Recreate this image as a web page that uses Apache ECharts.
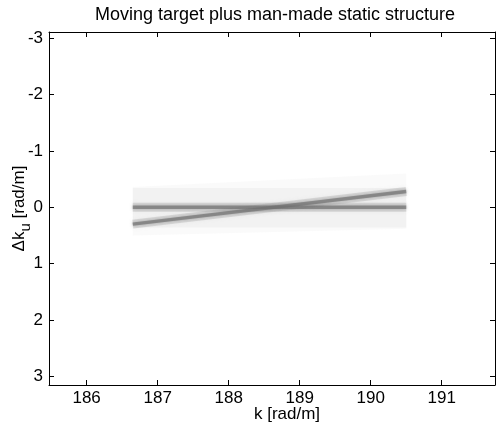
<!DOCTYPE html>
<html>
<head>
<meta charset="utf-8">
<script src="https://cdn.jsdelivr.net/npm/echarts@6/dist/echarts.min.js"></script>
<style>
  html, body { margin: 0; padding: 0; background: #fff; }
  #chart { width: 496px; height: 433px; }
</style>
</head>
<body>
<div id="chart"></div>
<script>
// Axis extents and tick positions
const kLimits = [185.47, 191.75];
const kTicks = [186, 187, 188, 189, 190, 191];
const dkLimits = [-3.11, 3.155];
const dkTicks = [-3, -2, -1, 0, 1, 2, 3];

// Wavenumber span covered by the signature image
const kSpan = [186.65, 190.5];
// Static structure: constant Δk_u across the span
const staticStructure = [0, 0];
// Moving target: Δk_u drifts linearly across the span
const movingTarget = [0.3, -0.28];
// Faint sidelobe haze: upper / lower bounds at each end of the span
const hazeCoreUpper = [-0.34, -0.34];
const hazeCoreLower = [0.36, 0.36];
const hazeFanUpper = [-0.36, -0.6];
const hazeFanLower = [0.5, 0.38];

const FONT = '"Liberation Sans", Arial, Helvetica, sans-serif';

function polygonSeries(upper, lower, fill) {
  const pts = [
    [kSpan[0], upper[0]], [kSpan[1], upper[1]],
    [kSpan[1], lower[1]], [kSpan[0], lower[0]]
  ];
  return {
    type: 'custom',
    coordinateSystem: 'cartesian2d',
    silent: true,
    data: [0],
    renderItem: function (params, api) {
      return {
        type: 'polygon',
        shape: { points: pts.map(p => api.coord(p)) },
        style: { fill: fill }
      };
    },
    z: 1
  };
}

function lineSeries(values, color, width, blur, z) {
  return {
    type: 'line',
    data: [[kSpan[0], values[0]], [kSpan[1], values[1]]],
    showSymbol: false,
    silent: true,
    lineStyle: {
      color: color, width: width, cap: 'butt',
      shadowBlur: blur, shadowColor: color
    },
    z: z
  };
}

const chart = echarts.init(document.getElementById('chart'), null, { renderer: 'canvas' });

const baseAxis = {
  axisLine: { show: true, onZero: false, lineStyle: { color: '#000', width: 1 } },
  axisTick: { show: true, inside: true, length: 5, lineStyle: { color: '#000' } },
  splitLine: { show: false }
};

chart.setOption({
  backgroundColor: '#fff',
  animation: false,
  title: {
    text: 'Moving target plus man-made static structure',
    left: 270, top: 1, textAlign: 'center',
    textStyle: { fontFamily: FONT, fontSize: 18, fontWeight: 'normal', color: '#000' }
  },
  grid: { left: 49, right: 1, top: 32, bottom: 48, containLabel: false, outerBoundsMode: 'none' },
  xAxis: [
    Object.assign({}, baseAxis, {
      type: 'value', position: 'bottom', min: kLimits[0], max: kLimits[1],
      axisTick: Object.assign({}, baseAxis.axisTick, { customValues: kTicks }),
      axisLabel: { customValues: kTicks, margin: 5, color: '#000', fontFamily: FONT, fontSize: 17 },
      name: 'k [rad/m]', nameLocation: 'middle', nameGap: 21, nameMoveOverlap: false,
      nameTextStyle: { fontFamily: FONT, fontSize: 17, color: '#000', padding: [0, 0, 0, 30] }
    }),
    Object.assign({}, baseAxis, {
      type: 'value', position: 'top', min: kLimits[0], max: kLimits[1],
      axisTick: Object.assign({}, baseAxis.axisTick, { customValues: kTicks }),
      axisLabel: { show: false }
    })
  ],
  yAxis: [
    Object.assign({}, baseAxis, {
      type: 'value', position: 'left', inverse: true, min: dkLimits[0], max: dkLimits[1],
      axisTick: Object.assign({}, baseAxis.axisTick, { customValues: dkTicks }),
      axisLabel: { customValues: dkTicks, margin: 6, color: '#000', fontFamily: FONT, fontSize: 17 },
      name: '{a|Δk}{s|u}{a| [rad/m]}', nameLocation: 'middle', nameGap: 18, nameRotate: 90,
      nameMoveOverlap: false,
      nameTextStyle: {
        color: '#000',
        rich: {
          a: { fontFamily: FONT, fontSize: 17, color: '#000', lineHeight: 20, verticalAlign: 'top' },
          s: { fontFamily: FONT, fontSize: 15, color: '#000', lineHeight: 20, padding: [7, 0, 0, 0], verticalAlign: 'top' }
        }
      }
    }),
    Object.assign({}, baseAxis, {
      type: 'value', position: 'right', inverse: true, min: dkLimits[0], max: dkLimits[1],
      axisTick: Object.assign({}, baseAxis.axisTick, { customValues: dkTicks }),
      axisLabel: { show: false }
    })
  ],
  series: [
    polygonSeries(hazeFanUpper, hazeFanLower, 'rgba(210,210,210,0.12)'),
    polygonSeries(hazeCoreUpper, hazeCoreLower, 'rgba(210,210,210,0.2)'),
    lineSeries(staticStructure, 'rgba(160,160,160,0.3)', 9, 4, 2),
    lineSeries(movingTarget, 'rgba(160,160,160,0.3)', 9, 4, 2),
    lineSeries(staticStructure, 'rgba(110,110,110,0.65)', 3.5, 3, 3),
    lineSeries(movingTarget, 'rgba(110,110,110,0.65)', 3.5, 3, 3)
  ]
});
</script>
</body>
</html>
